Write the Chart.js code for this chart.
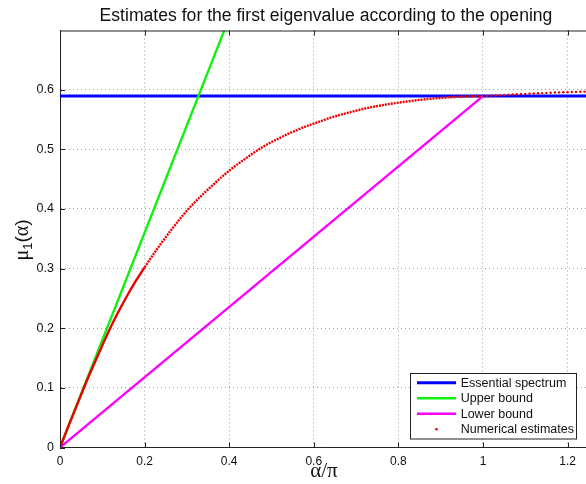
<!DOCTYPE html>
<html>
<head>
<meta charset="utf-8">
<script src="https://cdn.jsdelivr.net/npm/chart.js@4.4.1/dist/chart.umd.min.js"></script>
<style>
  html, body { margin: 0; background: #fff; overflow: hidden; }
  canvas { display: block; }
</style>
</head>
<body>
<canvas id="eigChart" width="594" height="484"></canvas>
<script>
// values
const xTicks = [0, 0.2, 0.4, 0.6, 0.8, 1, 1.2];
const yTicks = [0, 0.1, 0.2, 0.3, 0.4, 0.5, 0.6];

const essAlpha = [0, 1.26];
const essMu = [0.589, 0.589];

const upperAlpha = [0, 0.3889];
const upperMu = [0, 0.7];

const lowerAlpha = [0, 1];
const lowerMu = [0, 0.589];

const estAlpha = [
  0, 0.02, 0.04, 0.06, 0.08, 0.10, 0.12, 0.14, 0.16, 0.18,
  0.20, 0.22, 0.24, 0.26, 0.28, 0.30, 0.32, 0.34, 0.36, 0.38,
  0.40, 0.42, 0.44, 0.46, 0.48, 0.50, 0.52, 0.54, 0.56, 0.58,
  0.60, 0.62, 0.64, 0.66, 0.68, 0.70, 0.72, 0.74, 0.76, 0.78,
  0.80, 0.82, 0.84, 0.86, 0.88, 0.90, 0.92, 0.94, 0.96, 0.98,
  1.00, 1.01, 1.02, 1.03, 1.04, 1.05, 1.06, 1.07, 1.08, 1.09,
  1.10, 1.11, 1.12, 1.13, 1.14, 1.15, 1.16, 1.17, 1.18, 1.19,
  1.20, 1.21, 1.22, 1.23, 1.24, 1.25
];
const estMu = [
  0, 0.036, 0.071, 0.106, 0.139, 0.171, 0.202, 0.230, 0.256, 0.280,
  0.302, 0.323, 0.343, 0.362, 0.380, 0.397, 0.412, 0.426, 0.439, 0.452,
  0.464, 0.475, 0.485, 0.495, 0.504, 0.512, 0.519, 0.526, 0.532, 0.538,
  0.543, 0.548, 0.553, 0.557, 0.561, 0.5645, 0.568, 0.571, 0.5735, 0.576,
  0.578, 0.580, 0.5818, 0.5834, 0.5848, 0.586, 0.587, 0.5878, 0.5884, 0.5888,
  0.589, 0.5893, 0.5897, 0.5901, 0.5905, 0.5909, 0.5913, 0.5917, 0.5921, 0.5925,
  0.5928, 0.5932, 0.5935, 0.5938, 0.5941, 0.5944, 0.5947, 0.5950, 0.5952, 0.5955,
  0.5957, 0.5959, 0.5961, 0.5963, 0.5965, 0.5967
];

const SANS = '"Liberation Sans", Arial, Helvetica, sans-serif';
const SERIF = '"Liberation Serif", "Times New Roman", serif';

function toPoints(xs, ys) {
  return xs.map(function (x, i) { return { x: x, y: ys[i] }; });
}

// axes box, inward ticks, title, axis labels and the boxed legend
const matlabFrame = {
  id: 'matlabFrame',
  afterDraw: function (chart) {
    const ctx = chart.ctx;
    const a = chart.chartArea;
    const xs = chart.scales.x;
    const ys = chart.scales.y;
    ctx.save();
    ctx.strokeStyle = '#222';
    ctx.lineWidth = 1;
    ctx.beginPath();
    ctx.moveTo(a.left, a.top + 0.5);
    ctx.lineTo(a.right, a.top + 0.5);
    xTicks.forEach(function (t) {
      const px = Math.round(xs.getPixelForValue(t)) + 0.5;
      ctx.moveTo(px, a.bottom);
      ctx.lineTo(px, a.bottom - 5);
      ctx.moveTo(px, a.top);
      ctx.lineTo(px, a.top + 5);
    });
    yTicks.forEach(function (t) {
      const py = Math.round(ys.getPixelForValue(t)) + 0.5;
      ctx.moveTo(a.left, py);
      ctx.lineTo(a.left + 5, py);
    });
    ctx.stroke();

    // title
    ctx.fillStyle = '#111';
    ctx.textAlign = 'center';
    ctx.textBaseline = 'alphabetic';
    ctx.font = '17.6px ' + SANS;
    ctx.fillText('Estimates for the first eigenvalue according to the opening', 326, 20.5);

    // x label
    ctx.font = '21px ' + SERIF;
    ctx.fillText('α/π', 324, 477);

    // y label, rotated
    ctx.save();
    ctx.translate(28, 240);
    ctx.rotate(-Math.PI / 2);
    const parts = [
      { t: 'μ', f: '20px ' + SERIF, dy: 0 },
      { t: '1', f: '13px ' + SANS, dy: 4 },
      { t: '(', f: '19px ' + SANS, dy: 0 },
      { t: 'α', f: '20px ' + SERIF, dy: 0 },
      { t: ')', f: '19px ' + SANS, dy: 0 }
    ];
    let total = 0;
    parts.forEach(function (p) { ctx.font = p.f; p.w = ctx.measureText(p.t).width; total += p.w; });
    let cx = -total / 2;
    ctx.textAlign = 'left';
    parts.forEach(function (p) {
      ctx.font = p.f;
      ctx.fillText(p.t, cx, p.dy);
      cx += p.w;
    });
    ctx.restore();

    // legend
    const bx = 410.5, by = 373.5, bw = 166, bh = 65.5;
    ctx.fillStyle = '#fff';
    ctx.fillRect(bx, by, bw, bh);
    ctx.strokeStyle = '#222';
    ctx.lineWidth = 1;
    ctx.strokeRect(bx, by, bw, bh);
    ctx.font = '12.5px ' + SANS;
    ctx.textAlign = 'left';
    ctx.textBaseline = 'middle';
    chart.data.datasets.forEach(function (ds, i) {
      const ry = 382.7 + i * 15.5;
      if (ds.legendDot) {
        ctx.fillStyle = ds.pointBackgroundColor;
        ctx.beginPath();
        ctx.arc(436.5, ry, 1.3, 0, Math.PI * 2);
        ctx.fill();
      } else {
        ctx.strokeStyle = ds.borderColor;
        ctx.lineWidth = ds.borderWidth;
        ctx.beginPath();
        ctx.moveTo(417, ry);
        ctx.lineTo(456, ry);
        ctx.stroke();
      }
      ctx.fillStyle = '#111';
      ctx.fillText(ds.label, 460.7, ry + 0.5);
    });
    ctx.restore();
  }
};

document.addEventListener('DOMContentLoaded', function () {
  const canvas = document.querySelector('#eigChart');
  new Chart(canvas, {
    type: 'scatter',
    data: {
      datasets: [{
        label: 'Essential spectrum',
        data: toPoints(essAlpha, essMu),
        showLine: true,
        borderColor: '#0000ff',
        borderWidth: 3,
        pointRadius: 0,
        order: 3
      }, {
        label: 'Upper bound',
        data: toPoints(upperAlpha, upperMu),
        showLine: true,
        borderColor: '#11f011',
        borderWidth: 2.4,
        pointRadius: 0,
        order: 2
      }, {
        label: 'Lower bound',
        data: toPoints(lowerAlpha, lowerMu),
        showLine: true,
        borderColor: '#ff00ff',
        borderWidth: 2.4,
        pointRadius: 0,
        order: 1
      }, {
        label: 'Numerical estimates',
        legendDot: true,
        data: toPoints(estAlpha, estMu),
        showLine: true,
        borderColor: '#ee0000',
        borderWidth: 2.4,
        cubicInterpolationMode: 'monotone',
        pointBackgroundColor: '#ee0000',
        pointBorderWidth: 0,
        pointRadius: function (c) {
          return c.parsed && c.parsed.x > 1.001 ? 1.2 : 0;
        },
        segment: {
          borderDash: function (c) {
            return c.p0.parsed.x >= 0.199 ? [2, 1] : undefined;
          },
          borderColor: function (c) {
            return c.p0.parsed.x >= 0.999 ? 'rgba(0,0,0,0)' : undefined;
          }
        },
        order: 0
      }]
    },
    options: {
      responsive: false,
      animation: false,
      layout: { padding: { top: 30.5, right: 0, bottom: 0, left: 0 } },
      plugins: {
        legend: { display: false },
        title: { display: false },
        tooltip: { enabled: false }
      },
      scales: {
        x: {
          type: 'linear',
          min: 0,
          max: 1.253,
          afterFit: function (s) { s.height = 36.5; },
          grid: { color: 'rgba(0,0,0,0.38)', lineWidth: 1, drawTicks: false },
          border: { display: true, color: '#222', width: 1, dash: [1, 3] },
          ticks: {
            stepSize: 0.2,
            includeBounds: false,
            padding: 7,
            color: '#111',
            font: { family: SANS, size: 12 },
            callback: function (v) { return String(+v.toFixed(2)); }
          }
        },
        y: {
          type: 'linear',
          min: 0,
          max: 0.699,
          afterFit: function (s) { s.width = 60; },
          grid: { color: 'rgba(0,0,0,0.38)', lineWidth: 1, drawTicks: false },
          border: { display: true, color: '#222', width: 1, dash: [1, 3] },
          ticks: {
            stepSize: 0.1,
            includeBounds: false,
            padding: 6,
            color: '#111',
            font: { family: SANS, size: 12.5 },
            callback: function (v) { return String(+v.toFixed(2)); }
          }
        }
      }
    },
    plugins: [matlabFrame]
  });
});
</script>
</body>
</html>
